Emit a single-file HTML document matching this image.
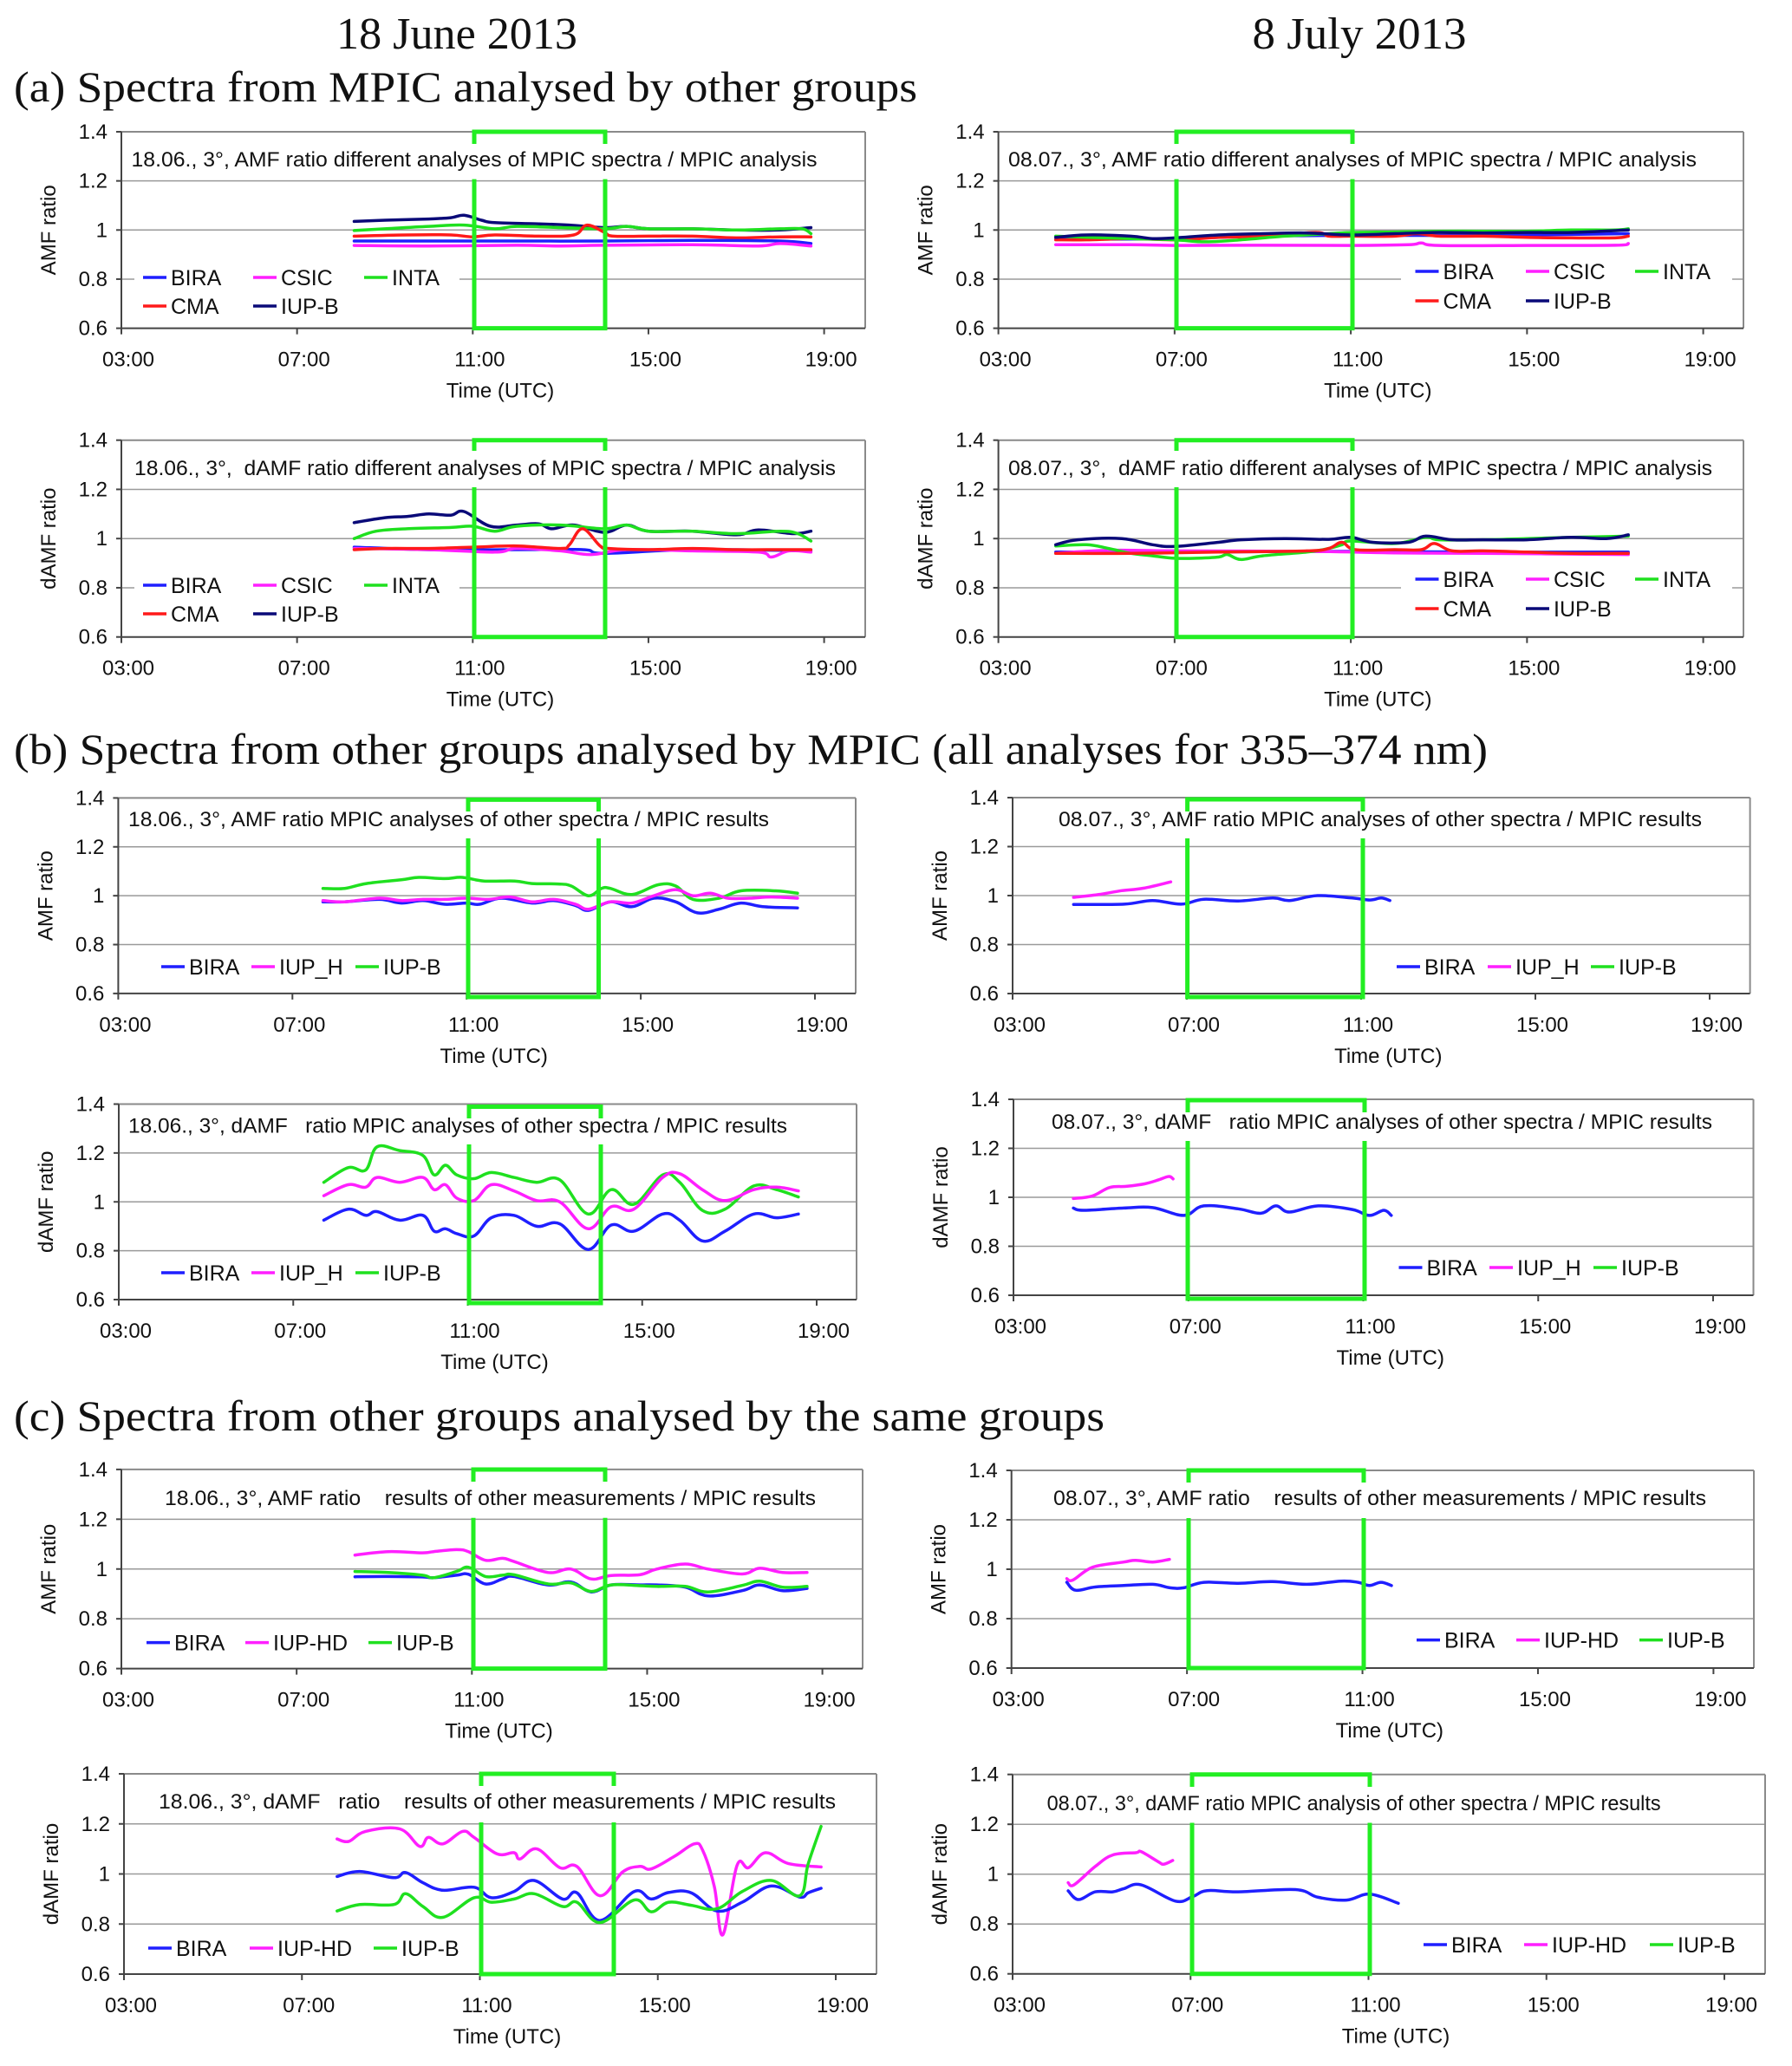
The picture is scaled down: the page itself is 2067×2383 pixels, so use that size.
<!DOCTYPE html>
<html><head><meta charset="utf-8"><style>
html,body{margin:0;padding:0;background:#fff;}
svg{display:block;}
text{font-family:"Liberation Sans",Arial,sans-serif;fill:#111;}
.serif{font-family:"Liberation Serif","Times New Roman",serif;}
</style></head><body>
<svg id="fig" xmlns="http://www.w3.org/2000/svg" width="2067" height="2383" viewBox="0 0 2067 2383">
<rect x="0" y="0" width="2067" height="2383" fill="#fff"/>
<text class="serif" x="527" y="56" font-size="52" text-anchor="middle" textLength="278" lengthAdjust="spacingAndGlyphs">18 June 2013</text>
<text class="serif" x="1568" y="56" font-size="52" text-anchor="middle" textLength="247" lengthAdjust="spacingAndGlyphs">8 July 2013</text>
<text class="serif" x="16" y="117" font-size="50" textLength="1042" lengthAdjust="spacingAndGlyphs">(a) Spectra from MPIC analysed by other groups</text>
<text class="serif" x="16" y="881" font-size="50" textLength="1700" lengthAdjust="spacingAndGlyphs">(b) Spectra from other groups analysed by MPIC (all analyses for 335–374 nm)</text>
<text class="serif" x="16" y="1650" font-size="50" textLength="1258" lengthAdjust="spacingAndGlyphs">(c) Spectra from other groups analysed by the same groups</text>
</svg>
<script>
// ---------- data (hours UTC, ratio values) ----------
const xTickLabels = ["03:00","07:00","11:00","15:00","19:00"];
const xTickHours = [3,7,11,15,19];
const yTickValues = [0.6,0.8,1.0,1.2,1.4];
const yTickLabels = ["0.6","0.8","1","1.2","1.4"];

// (a) 18 June AMF
const a1_iupb_t=[8.3,9,10,10.5,10.8,11.2,11.5,12.5,13.2,14,14.5,15,16,17,18,18.7];
const a1_iupb_v=[1.035,1.04,1.045,1.05,1.06,1.04,1.03,1.025,1.02,1.01,1.015,1.005,1.005,1.0,1.0,1.01];
const a1_inta_t=[8.3,9,10,10.8,11.5,12,13,14,14.5,15,16,17,18,18.5,18.7];
const a1_inta_v=[0.998,1.005,1.015,1.02,1.005,1.015,1.01,1.005,1.015,1.005,1.005,1.0,1.005,1.005,0.985];
const a1_cma_t=[8.3,9.5,10.5,11,11.5,12.5,13.3,13.6,14,14.2,15,16,17,18,18.7];
const a1_cma_v=[0.975,0.98,0.98,0.972,0.98,0.975,0.98,1.02,0.99,0.975,0.975,0.975,0.968,0.972,0.972];
const a1_bira_t=[8.3,10,12,14,16,18,18.7];
const a1_bira_v=[0.955,0.955,0.955,0.955,0.958,0.955,0.945];
const a1_csic_t=[8.3,10,12,13,14,16,17.5,18,18.7];
const a1_csic_v=[0.937,0.935,0.938,0.935,0.938,0.94,0.935,0.945,0.935];
// (a) 18 June dAMF
const a2_iupb_t=[8.3,9,9.5,10,10.5,10.8,11.4,12,12.5,12.8,13.3,14,14.5,15,16,17,17.5,18.3,18.7];
const a2_iupb_v=[1.065,1.085,1.09,1.1,1.095,1.11,1.05,1.055,1.06,1.04,1.055,1.025,1.055,1.03,1.03,1.015,1.035,1.02,1.03];
const a2_inta_t=[8.3,8.8,9.5,10.5,11,11.5,12,13,14,14.5,15,16,17,18,18.4,18.7];
const a2_inta_v=[1.0,1.03,1.04,1.045,1.05,1.03,1.05,1.055,1.04,1.055,1.03,1.03,1.02,1.03,1.02,0.99];
const a2_cma_t=[8.3,9,10,11,12,13,13.2,13.5,13.9,14.1,15,16,17,18,18.7];
const a2_cma_v=[0.955,0.96,0.96,0.965,0.97,0.96,0.975,1.04,0.97,0.96,0.955,0.96,0.955,0.955,0.955];
const a2_bira_t=[8.3,10,12,13.5,14,16,18.7];
const a2_bira_v=[0.965,0.955,0.955,0.955,0.94,0.955,0.95];
const a2_csic_t=[8.3,10,11.5,12,13,13.7,14.5,16,17.5,17.8,18.2,18.7];
const a2_csic_v=[0.96,0.955,0.945,0.96,0.95,0.935,0.955,0.95,0.945,0.925,0.95,0.945];
// (a) 8 July AMF
const a3_iupb_t=[4.3,5,6,6.5,7,8,9,10,11,12,13,14,15,16,17.3];
const a3_iupb_v=[0.97,0.98,0.975,0.965,0.968,0.98,0.985,0.988,0.98,0.985,0.99,0.988,0.99,0.99,1.0];
const a3_inta_t=[4.3,5,6,7,7.7,8.5,9.5,10.5,11,12,13,14,15,16,17,17.3];
const a3_inta_v=[0.975,0.97,0.965,0.96,0.952,0.96,0.975,0.985,0.99,0.992,0.995,0.995,0.995,1.0,1.0,1.005];
const a3_cma_t=[4.3,5,6,7,8,9,10.2,10.5,11,12,12.5,13,14,15,16,17,17.3];
const a3_cma_v=[0.96,0.96,0.965,0.96,0.97,0.975,0.99,0.975,0.975,0.975,0.985,0.975,0.975,0.97,0.968,0.968,0.975];
const a3_bira_t=[4.3,7,9,11,13,15,17.3];
const a3_bira_v=[0.962,0.965,0.975,0.978,0.978,0.98,0.985];
const a3_csic_t=[4.3,6,7,9,11,12.3,12.6,13,15,17,17.3];
const a3_csic_v=[0.94,0.94,0.937,0.938,0.937,0.94,0.947,0.937,0.937,0.938,0.945];
// (a) 8 July dAMF
const a4_iupb_t=[4.3,4.8,5.8,6.5,7,8,8.5,9.5,10.5,11,11.5,12.3,12.7,13.3,14,15,16,16.8,17.3];
const a4_iupb_v=[0.975,0.995,1.0,0.975,0.968,0.985,0.995,1.0,0.997,1.005,0.985,0.985,1.01,0.995,0.995,0.995,1.005,1.0,1.015];
const a4_inta_t=[4.3,5,5.5,6,6.5,7,7.5,8,8.2,8.5,9,10,10.5,10.8,11,12,12.7,13,14,15,16,17.3];
const a4_inta_v=[0.97,0.975,0.96,0.94,0.93,0.92,0.92,0.925,0.935,0.915,0.93,0.945,0.96,0.975,0.99,0.98,1.005,0.995,0.995,1.0,1.005,1.01];
const a4_cma_t=[4.3,6,8,10,10.5,10.8,11.1,12,12.6,12.9,13.3,14,15,16,17.3];
const a4_cma_v=[0.94,0.94,0.945,0.95,0.96,0.985,0.955,0.955,0.955,0.98,0.95,0.95,0.945,0.94,0.94];
const a4_bira_t=[4.3,7,10,12,14,17.3];
const a4_bira_v=[0.945,0.945,0.948,0.947,0.945,0.945];
const a4_csic_t=[4.3,5.5,7,10,12,14,17.3];
const a4_csic_v=[0.94,0.952,0.95,0.948,0.942,0.94,0.935];
// (b) 18 June AMF
const b1_iupb_t=[7.7,8.2,8.7,9.5,9.9,10.5,10.9,11.4,12.1,12.5,13.1,13.4,13.8,14.1,14.3,14.8,15.4,15.8,16.2,16.8,17.3,18.1,18.6];
const b1_iupb_v=[1.03,1.03,1.05,1.065,1.075,1.07,1.075,1.06,1.06,1.05,1.048,1.04,1.0,1.03,1.03,1.005,1.045,1.04,0.985,0.99,1.02,1.02,1.01];
const b1_iuph_t=[7.7,8.2,9.0,9.5,10,10.5,11,11.5,12,12.5,13,13.5,13.8,14.3,14.8,15.3,15.8,16.2,16.6,17,17.5,18,18.6];
const b1_iuph_v=[0.98,0.975,0.99,0.98,0.985,0.985,0.99,0.985,0.995,0.975,0.985,0.965,0.945,0.975,0.97,1.0,1.025,1.0,1.01,0.99,0.99,0.995,0.99];
const b1_bira_t=[7.7,8.2,9.0,9.5,10,10.5,11,11.3,11.8,12.5,13,13.5,13.8,14.3,14.8,15.3,15.8,16.3,16.8,17.3,17.8,18.6];
const b1_bira_v=[0.975,0.975,0.985,0.97,0.98,0.965,0.97,0.965,0.99,0.97,0.98,0.96,0.94,0.975,0.955,0.99,0.975,0.93,0.945,0.97,0.955,0.95];
// (b) 18 June dAMF
const b2_t=[7.7,8.26,8.66,8.92,9.44,9.97,10.23,10.49,10.75,11.14,11.54,12.06,12.58,13.11,13.76,14.29,14.81,15.47,15.86,16.38,16.9,17.56,18.08,18.58];
const b2_iupb_v=[1.08,1.14,1.13,1.225,1.21,1.19,1.11,1.15,1.11,1.095,1.12,1.1,1.08,1.09,0.95,1.05,0.99,1.11,1.08,0.965,0.97,1.065,1.05,1.02];
const b2_iuph_v=[1.025,1.07,1.06,1.1,1.08,1.1,1.05,1.07,1.015,1.005,1.07,1.045,1.005,1.0,0.89,0.98,0.97,1.1,1.115,1.05,1.005,1.05,1.06,1.045];
const b2_bira_v=[0.925,0.97,0.945,0.96,0.925,0.945,0.88,0.89,0.87,0.86,0.935,0.945,0.9,0.91,0.805,0.905,0.88,0.95,0.925,0.84,0.88,0.95,0.935,0.95];
// (b) 8 July AMF
const b3_bira_t=[4.4,5.56,6.21,6.87,7.39,8.18,8.97,9.36,10.0,10.8,11.2,11.46,11.66];
const b3_bira_v=[0.964,0.965,0.98,0.965,0.985,0.978,0.99,0.98,1.0,0.99,0.982,0.99,0.98];
const b3_iuph_t=[4.4,5,5.5,6,6.63];
const b3_iuph_v=[0.993,1.005,1.02,1.03,1.056];
// (b) 8 July dAMF
const b4_bira_t=[4.37,4.6,5.52,6.18,6.9,7.35,8.14,8.66,9.0,9.31,9.97,10.75,11.14,11.47,11.64];
const b4_bira_v=[0.956,0.947,0.956,0.958,0.926,0.965,0.953,0.935,0.965,0.94,0.965,0.95,0.926,0.947,0.926];
const b4_iuph_t=[4.37,4.8,5.2,5.6,6.0,6.3,6.55,6.65];
const b4_iuph_v=[0.995,1.005,1.04,1.045,1.055,1.07,1.085,1.075];
// (c) 18 June AMF
const c1_t=[8.33,9.09,9.87,10.13,10.65,10.92,11.31,11.7,11.96,12.74,13.26,13.72,14.18,14.83,15.22,15.87,16.39,17.17,17.57,18.09,18.65];
const c1_iuphd_v=[1.056,1.07,1.065,1.07,1.078,1.07,1.035,1.043,1.03,0.986,1.0,0.96,0.974,0.977,1.0,1.02,1.0,0.98,1.003,0.986,0.986];
const c1_iupb_v=[0.99,0.986,0.975,0.965,0.99,1.007,0.97,0.975,0.977,0.94,0.944,0.91,0.936,0.933,0.93,0.93,0.908,0.934,0.951,0.927,0.93];
const c1_bira_v=[0.969,0.97,0.968,0.965,0.975,0.979,0.94,0.96,0.97,0.936,0.948,0.908,0.936,0.936,0.936,0.927,0.892,0.913,0.936,0.913,0.922];
// (c) 18 June dAMF
const c2_iuphd_t=[7.79,8.05,8.43,9.2,9.65,9.84,10.17,10.61,10.87,11.39,11.77,11.9,12.28,12.8,13.18,13.7,14.21,14.6,14.85,15.37,15.82,16.01,16.27,16.46,16.78,17.04,17.42,17.93,18.67];
const c2_iuphd_v=[1.14,1.13,1.17,1.18,1.11,1.146,1.12,1.17,1.146,1.08,1.085,1.06,1.1,1.025,1.03,0.913,1.008,1.03,1.02,1.07,1.12,1.094,0.95,0.757,1.034,1.025,1.085,1.042,1.028];
const c2_t=[7.79,8.3,9.07,9.33,9.72,10.17,10.87,11.26,11.77,12.22,12.86,13.18,13.7,14.47,14.85,15.24,15.75,16.33,16.9,17.55,18.19,18.38,18.67];
const c2_bira_v=[0.99,1.01,0.985,1.006,0.965,0.935,0.947,0.905,0.93,0.974,0.9,0.925,0.814,0.93,0.9,0.926,0.925,0.852,0.887,0.952,0.908,0.925,0.943];
const c2_iupb_v=[0.852,0.878,0.878,0.921,0.87,0.827,0.905,0.887,0.9,0.921,0.87,0.887,0.806,0.896,0.849,0.887,0.875,0.861,0.93,0.974,0.913,1.04,1.19];
// (c) 8 July AMF
const c3_bira_t=[4.26,4.46,4.91,5.56,6.22,6.61,6.93,7.39,8.17,8.95,9.73,10.51,10.9,11.16,11.42,11.66];
const c3_bira_v=[0.947,0.915,0.928,0.934,0.939,0.925,0.925,0.947,0.943,0.95,0.939,0.952,0.947,0.934,0.947,0.934];
const c3_iuphd_t=[4.26,4.4,4.85,5.56,5.83,6.22,6.6];
const c3_iuphd_v=[0.962,0.956,1.008,1.029,1.036,1.029,1.04];
// (c) 8 July dAMF
const c4_bira_t=[4.25,4.48,4.86,5.25,5.5,5.89,6.66,7.05,7.37,8.07,9.36,9.87,10.51,11.03,11.67];
const c4_bira_v=[0.933,0.898,0.929,0.929,0.942,0.957,0.892,0.91,0.934,0.929,0.938,0.907,0.896,0.92,0.883];
const c4_iuphd_t=[4.25,4.38,4.86,5.25,5.77,5.89,6.27,6.4,6.6];
const c4_iuphd_v=[0.966,0.957,1.031,1.077,1.086,1.09,1.05,1.04,1.055];

// ---------- layout ----------
const BLUE="#1f1fff", MAG="#ff1fff", GRN="#1fe01f", RED="#ff1a1a", NAVY="#0a0a78", BOX="#22ee22";
const panels=[
 {id:"a-june-amf",L:140,R:998,T:152,B:378.6,x19:950.6,box:[547,698],bt:152,gap:[166,206.6],bb:378.6,
  title:"18.06., 3°, AMF ratio different analyses of MPIC spectra / MPIC analysis",tx:151.5,tw:791,ty:184,yl:"AMF ratio",
  lbox:[155,530],leg:[["BIRA",BLUE,165,320],["CSIC",MAG,292,320],["INTA",GRN,420,320],["CMA",RED,165,353],["IUP-B",NAVY,292,353]],
  series:[[NAVY,a1_iupb_t,a1_iupb_v],[GRN,a1_inta_t,a1_inta_v],[RED,a1_cma_t,a1_cma_v],[BLUE,a1_bira_t,a1_bira_v],[MAG,a1_csic_t,a1_csic_v]]},
 {id:"a-june-damf",L:140,R:998,T:507.7,B:734.7,x19:950.6,box:[547,698],bt:507.7,gap:[520,562],bb:734.7,
  title:"18.06., 3°,  dAMF ratio different analyses of MPIC spectra / MPIC analysis",tx:155,tw:809,ty:540,yl:"dAMF ratio",
  lbox:[155,530],leg:[["BIRA",BLUE,165,675],["CSIC",MAG,292,675],["INTA",GRN,420,675],["CMA",RED,165,708],["IUP-B",NAVY,292,708]],
  series:[[NAVY,a2_iupb_t,a2_iupb_v],[GRN,a2_inta_t,a2_inta_v],[BLUE,a2_bira_t,a2_bira_v],[MAG,a2_csic_t,a2_csic_v],[RED,a2_cma_t,a2_cma_v]]},
 {id:"a-july-amf",L:1151.6,R:2011,T:152,B:378.6,x19:1964.6,box:[1357,1560],bt:152,gap:[166,206.6],bb:378.6,
  title:"08.07., 3°, AMF ratio different analyses of MPIC spectra / MPIC analysis",tx:1163,tw:794,ty:184,yl:"AMF ratio",
  lbox:[1616,1998],leg:[["BIRA",BLUE,1632.5,313],["CSIC",MAG,1760,313],["INTA",GRN,1886,313],["CMA",RED,1632.5,347],["IUP-B",NAVY,1760,347]],
  series:[[MAG,a3_csic_t,a3_csic_v],[BLUE,a3_bira_t,a3_bira_v],[RED,a3_cma_t,a3_cma_v],[GRN,a3_inta_t,a3_inta_v],[NAVY,a3_iupb_t,a3_iupb_v]]},
 {id:"a-july-damf",L:1151.6,R:2011,T:507.7,B:734.7,x19:1964.6,box:[1357,1560],bt:507.7,gap:[520,562],bb:734.7,
  title:"08.07., 3°,  dAMF ratio different analyses of MPIC spectra / MPIC analysis",tx:1163,tw:812,ty:540,yl:"dAMF ratio",
  lbox:[1616,1998],leg:[["BIRA",BLUE,1632.5,668],["CSIC",MAG,1760,668],["INTA",GRN,1886,668],["CMA",RED,1632.5,702],["IUP-B",NAVY,1760,702]],
  series:[[BLUE,a4_bira_t,a4_bira_v],[MAG,a4_csic_t,a4_csic_v],[GRN,a4_inta_t,a4_inta_v],[RED,a4_cma_t,a4_cma_v],[NAVY,a4_iupb_t,a4_iupb_v]]},
 {id:"b-june-amf",L:136.4,R:987,T:920.4,B:1145.9,x19:940,box:[540,690.5],bt:922.4,gap:[936,967],bb:1150,
  title:"18.06., 3°, AMF ratio MPIC analyses of other spectra / MPIC results",tx:148,tw:739,ty:945,yl:"AMF ratio",
  leg:[["BIRA",BLUE,186,1115],["IUP_H",MAG,290,1115],["IUP-B",GRN,410,1115]],
  series:[[GRN,b1_iupb_t,b1_iupb_v],[BLUE,b1_bira_t,b1_bira_v],[MAG,b1_iuph_t,b1_iuph_v]]},
 {id:"b-june-damf",L:137,R:988,T:1273.5,B:1499,x19:942,box:[541,693],bt:1276.5,gap:[1290,1320],bb:1503,
  title:"18.06., 3°, dAMF   ratio MPIC analyses of other spectra / MPIC results",tx:148,tw:760,ty:1298.5,yl:"dAMF ratio",
  leg:[["BIRA",BLUE,186,1468],["IUP_H",MAG,290,1468],["IUP-B",GRN,410,1468]],
  series:[[GRN,b2_t,b2_iupb_v],[MAG,b2_t,b2_iuph_v],[BLUE,b2_t,b2_bira_v]]},
 {id:"b-july-amf",L:1168,R:2018.6,T:920,B:1146,x19:1972,box:[1369.6,1572],bt:922,gap:[936,967],bb:1150,
  title:"08.07., 3°, AMF ratio MPIC analyses of other spectra / MPIC results",tx:1221,tw:742,ty:945,yl:"AMF ratio",
  leg:[["BIRA",BLUE,1611,1115],["IUP_H",MAG,1716,1115],["IUP-B",GRN,1835,1115]],
  series:[[BLUE,b3_bira_t,b3_bira_v],[MAG,b3_iuph_t,b3_iuph_v]]},
 {id:"b-july-damf",L:1169,R:2022.5,T:1268,B:1494,x19:1976,box:[1370,1574],bt:1269,gap:[1283,1316],bb:1498,
  title:"08.07., 3°, dAMF   ratio MPIC analyses of other spectra / MPIC results",tx:1213,tw:762,ty:1294,yl:"dAMF ratio",
  leg:[["BIRA",BLUE,1613.5,1462],["IUP_H",MAG,1718,1462],["IUP-B",GRN,1838,1462]],
  series:[[BLUE,b4_bira_t,b4_bira_v],[MAG,b4_iuph_t,b4_iuph_v]]},
 {id:"c-june-amf",L:140,R:995,T:1694.9,B:1924.6,x19:948.6,box:[546,698],bt:1695,gap:[1709,1750.8],bb:1924.6,
  title:"18.06., 3°, AMF ratio    results of other measurements / MPIC results",tx:190,tw:751,ty:1728,yl:"AMF ratio",
  leg:[["BIRA",BLUE,169,1894.6],["IUP-HD",MAG,283,1894.6],["IUP-B",GRN,425,1894.6]],
  series:[[MAG,c1_t,c1_iuphd_v],[BLUE,c1_t,c1_bira_v],[GRN,c1_t,c1_iupb_v]]},
 {id:"c-june-damf",L:143,R:1011,T:2046,B:2277,x19:964,box:[555,708],bt:2046,gap:[2060,2102],bb:2277,
  title:"18.06., 3°, dAMF   ratio    results of other measurements / MPIC results",tx:183,tw:781,ty:2078,yl:"dAMF ratio",
  leg:[["BIRA",BLUE,171,2247],["IUP-HD",MAG,288,2247],["IUP-B",GRN,431,2247]],
  series:[[MAG,c2_iuphd_t,c2_iuphd_v],[BLUE,c2_t,c2_bira_v],[GRN,c2_t,c2_iupb_v]]},
 {id:"c-july-amf",L:1166.7,R:2023,T:1696,B:1924,x19:1976.4,box:[1371,1573],bt:1696,gap:[1710,1751],bb:1924,
  title:"08.07., 3°, AMF ratio    results of other measurements / MPIC results",tx:1215,tw:753,ty:1728,yl:"AMF ratio",
  leg:[["BIRA",BLUE,1634,1891.6],["IUP-HD",MAG,1749,1891.6],["IUP-B",GRN,1891,1891.6]],
  series:[[MAG,c3_iuphd_t,c3_iuphd_v],[BLUE,c3_bira_t,c3_bira_v]]},
 {id:"c-july-damf",L:1168,R:2036,T:2046.7,B:2276.7,x19:1989,box:[1375,1580],bt:2046.7,gap:[2061,2102.5],bb:2276.7,
  title:"08.07., 3°, dAMF ratio MPIC analysis of other spectra / MPIC results",tx:1207.6,tw:708,ty:2080,yl:"dAMF ratio",
  leg:[["BIRA",BLUE,1642,2243],["IUP-HD",MAG,1758,2243],["IUP-B",GRN,1903,2243]],
  series:[[MAG,c4_iuphd_t,c4_iuphd_v],[BLUE,c4_bira_t,c4_bira_v]]}
];

const NS="http://www.w3.org/2000/svg";
const fig=document.getElementById("fig");
function mk(tag,attrs,parent){const e=document.createElementNS(NS,tag);for(const k in attrs)e.setAttribute(k,attrs[k]);(parent||fig).appendChild(e);return e;}
function smoothPath(pts){
  let d="M"+pts[0][0].toFixed(1)+","+pts[0][1].toFixed(1);
  for(let i=0;i<pts.length-1;i++){
    const p0=pts[Math.max(0,i-1)],p1=pts[i],p2=pts[i+1],p3=pts[Math.min(pts.length-1,i+2)];
    const k=0.18;
    const c1x=p1[0]+(p2[0]-p0[0])*k,c1y=p1[1]+(p2[1]-p0[1])*k;
    const c2x=p2[0]-(p3[0]-p1[0])*k,c2y=p2[1]-(p3[1]-p1[1])*k;
    d+=" C"+c1x.toFixed(1)+","+c1y.toFixed(1)+" "+c2x.toFixed(1)+","+c2y.toFixed(1)+" "+p2[0].toFixed(1)+","+p2[1].toFixed(1);
  }
  return d;
}

panels.forEach(function(p){
  const g=mk("g",{});
  
  
  const xs=function(h){return p.L+(h-3)/16*(p.x19-p.L);};
  const ys=function(v){return p.B-(v-0.6)/0.8*(p.B-p.T);};
  yTickValues.forEach(function(v,i){
    if(i>0&&i<4){const gl=mk("line",{x1:p.L,x2:p.R,y1:ys(v),y2:ys(v),stroke:"#9a9a9a","stroke-width":1.5},g);
      
      }
  });
  mk("line",{x1:p.L,x2:p.R,y1:p.T,y2:p.T,stroke:"#8a8a8a","stroke-width":2},g);
  mk("line",{x1:p.R,x2:p.R,y1:p.T,y2:p.B,stroke:"#8a8a8a","stroke-width":2},g);
  const ya=mk("line",{x1:p.L,x2:p.L,y1:p.T,y2:p.B+1,stroke:"#444","stroke-width":2},g);
  
  
  const xa=mk("line",{x1:p.L,x2:p.R,y1:p.B,y2:p.B,stroke:"#444","stroke-width":2},g);
  
  
  yTickValues.forEach(function(v,i){
    mk("line",{x1:p.L-6,x2:p.L,y1:ys(v),y2:ys(v),stroke:"#444","stroke-width":2},g);
    const t=mk("text",{x:p.L-16,y:ys(v)+8,"font-size":24,"text-anchor":"end"},g);
    t.textContent=yTickLabels[i];
    
    
  });
  xTickHours.forEach(function(h,i){
    const x=xs(h);
    mk("line",{x1:x,x2:x,y1:p.B,y2:p.B+7,stroke:"#444","stroke-width":2},g);
    const t=mk("text",{x:x+8,y:p.B+44,"font-size":24,"text-anchor":"middle"},g);
    t.textContent=xTickLabels[i];
    
    
  });
  const xt=mk("text",{x:(p.L+p.R)/2+8,y:p.B+80,"font-size":24,"text-anchor":"middle"},g);
  xt.textContent="Time (UTC)";
  
  
  const cy=(p.T+p.B)/2, cx=p.L-76;
  const yt=mk("text",{x:cx,y:cy,"font-size":24,"text-anchor":"middle",transform:"rotate(-90 "+cx+" "+cy+")"},g);
  yt.textContent=p.yl;
  
  
  if(p.lbox){mk("rect",{x:p.lbox[0],y:p.leg[0][3]-16,width:p.lbox[1]-p.lbox[0],height:p.leg[3][3]-p.leg[0][3]+32,fill:"#fff"},g);}
  p.series.forEach(function(s){
    const pts=s[1].map(function(h,i){return [xs(h),ys(s[2][i])];});
    const pl=mk("path",{d:smoothPath(pts),fill:"none",stroke:s[0],"stroke-width":3.5,"stroke-linejoin":"round","stroke-linecap":"round"},g);
    
    
  });
  const bx=mk("path",{d:"M"+p.box[0]+","+(p.gap[0])+"V"+p.bt+"H"+p.box[1]+"V"+p.gap[0]+
     "M"+p.box[0]+","+p.gap[1]+"V"+p.bb+"H"+p.box[1]+"V"+p.gap[1],fill:"none",stroke:BOX,"stroke-width":5},g);
  
  
  const tt=mk("text",{x:p.tx,y:p.ty+8,"font-size":24,textLength:p.tw,lengthAdjust:"spacingAndGlyphs","xml:space":"preserve"},g);
  tt.style.whiteSpace="pre";
  tt.textContent=p.title;
  
  
  p.leg.forEach(function(l){
    const le=mk("g",{},g);
    
    
    mk("line",{x1:l[2],x2:l[2]+27,y1:l[3],y2:l[3],stroke:l[1],"stroke-width":3.5},le);
    const lt=mk("text",{x:l[2]+32,y:l[3]+9,"font-size":25},le);
    lt.textContent=l[0];
  });
});
</script>
</body></html>
